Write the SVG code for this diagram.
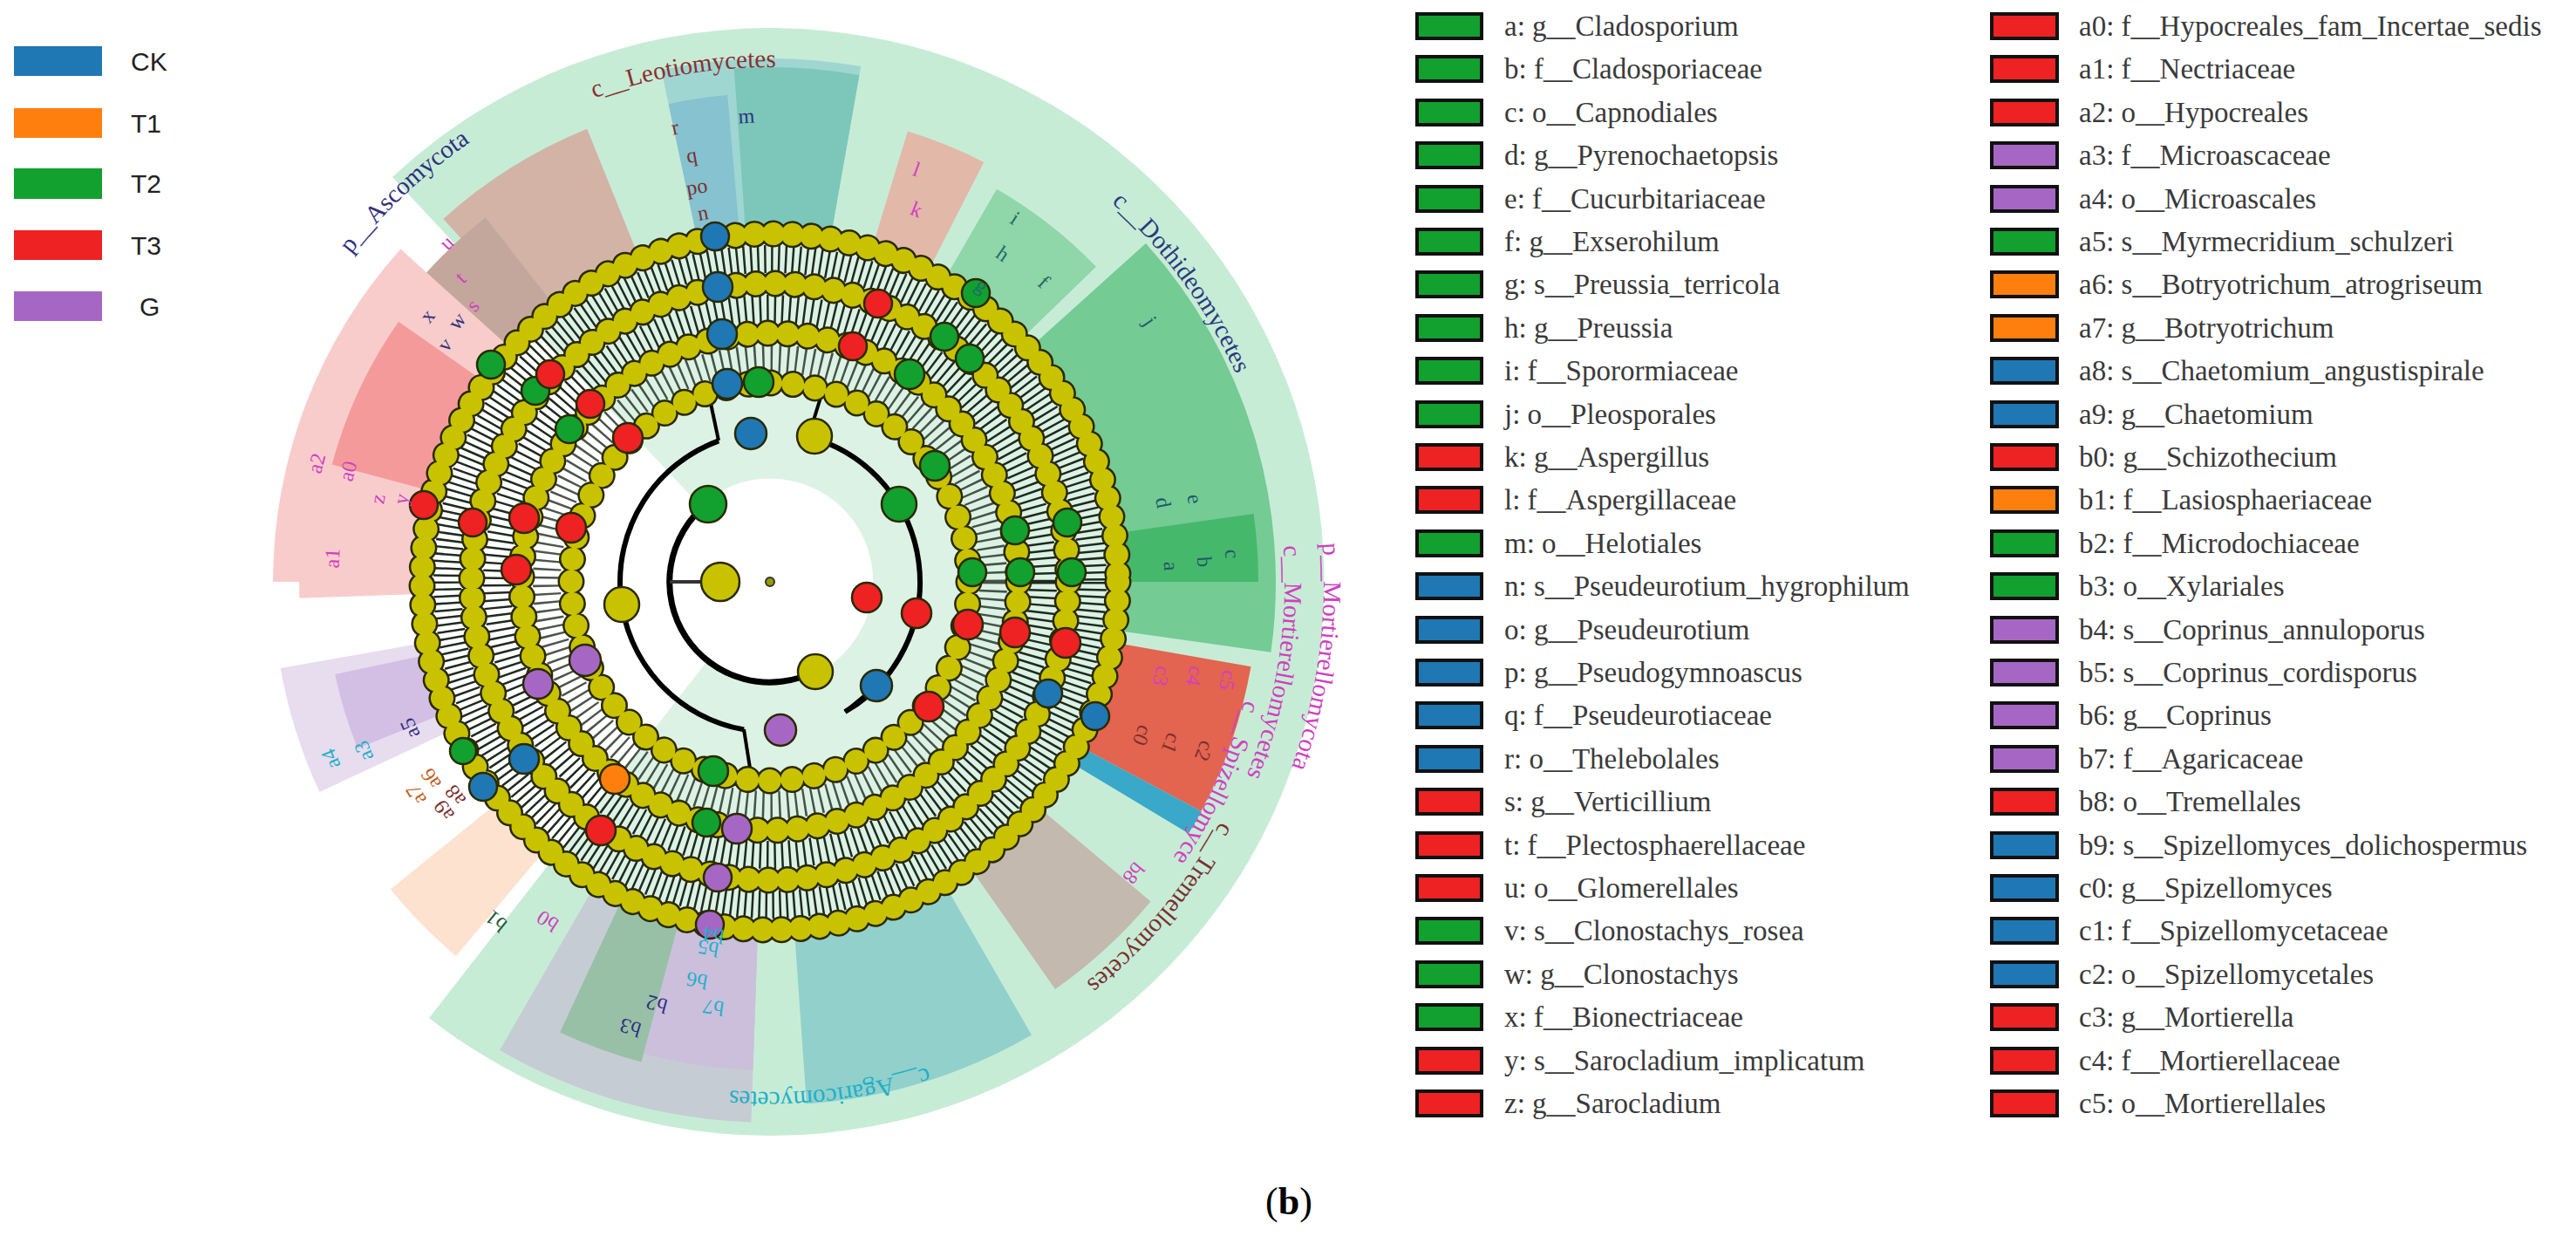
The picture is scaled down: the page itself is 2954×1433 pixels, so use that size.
<svg xmlns="http://www.w3.org/2000/svg" width="2954" height="1433" viewBox="0 0 2954 1433">
<style>
.lg{font-family:"Liberation Serif",serif;font-size:33px;fill:#3a3a3a}
.kl{font-family:"Liberation Sans",Arial,sans-serif;font-size:30px;fill:#222}
.lb{font-family:"Liberation Serif",serif;font-size:24px;text-anchor:middle;dominant-baseline:central}
.cl{font-family:"Liberation Serif",serif;font-size:29px}
.bx{stroke:#111;stroke-width:4}
.n{stroke:#2a2a00;stroke-width:2.5}
.Y{fill:#c8c200}.G{fill:#12a02e}.B{fill:#1f77b4}.R{fill:#ee2222}.P{fill:#a667c4}.O{fill:#ff7f0e}
</style>
<rect width="2954" height="1433" fill="#fff"/>
<g id="legend-groups">
<rect x="16" y="53" width="101" height="34" fill="#1f77b4"/><text class="kl" x="150" y="81">CK</text>
<rect x="16" y="124" width="101" height="34" fill="#ff7f0e"/><text class="kl" x="150" y="152">T1</text>
<rect x="16" y="193" width="101" height="35" fill="#12a02e"/><text class="kl" x="150" y="221">T2</text>
<rect x="16" y="264" width="101" height="34" fill="#ee2222"/><text class="kl" x="150" y="292">T3</text>
<rect x="16" y="334" width="101" height="34" fill="#a667c4"/><text class="kl" x="160" y="362">G</text>
</g>
<g id="backgrounds">
<path d="M450,203 A635,635 0 1 1 492,1167 L630,990 A410,410 0 1 0 603,367 Z" fill="#c7ecd6"/>
<path d="M603,367 A410,410 0 1 1 630,990 L810,759 A118,118 0 1 0 803,580 Z" fill="#dcf2e4"/>
<path d="M758.3,80.1 A600,600 0 0 1 987.2,76.1 L954.2,263.2 A410,410 0 0 0 797.8,266 Z" fill="#9fd6d2"/>
<path d="M841.8,78.4 A590,590 0 0 1 985.4,86 L954.2,263.2 A410,410 0 0 0 854.4,258 Z" fill="#7cc7ba"/>
<path d="M766.6,119.3 A560,560 0 0 1 834.2,109.1 L847.2,258.6 A410,410 0 0 0 797.8,266 Z" fill="#86c2cf"/>
<path d="M508.3,250.9 A560,560 0 0 1 673.2,147.8 L729.4,286.8 A410,410 0 0 0 608.7,362.3 Z" fill="#d2b3a6"/>
<path d="M465.4,340.7 A530,530 0 0 1 556.7,249.4 L630.6,343.9 A410,410 0 0 0 559.9,414.6 Z" fill="#c4a79c"/>
<path d="M313,667 A570,570 0 0 1 459.4,285.6 L578.3,392.7 A410,410 0 0 0 473,667 Z" fill="#f9cccc"/>
<path d="M380.7,532.4 A520,520 0 0 1 457,368.7 L547.1,431.8 A410,410 0 0 0 487,560.9 Z" fill="#f59a9a"/>
<path d="M343.3,685.8 A540,540 0 0 1 351.2,573.3 L479.2,595.8 A410,410 0 0 0 473.2,681.3 Z" fill="#f9cccc"/>
<path d="M366.4,907.9 A570,570 0 0 1 321.7,766 L479.2,738.2 A410,410 0 0 0 511.4,840.3 Z" fill="#e8dcef"/>
<path d="M410.1,858 A510,510 0 0 1 384.2,773 L482,752.2 A410,410 0 0 0 502.8,820.6 Z" fill="#d3bfe3"/>
<path d="M523,1096 A560,560 0 0 1 447.8,1019.4 L564.4,925 A410,410 0 0 0 619.5,981.1 Z" fill="#fde2d0"/>
<path d="M861.4,1286.6 A620,620 0 0 1 573,1203.9 L678,1022.1 A410,410 0 0 0 868.7,1076.8 Z" fill="#c6ccd3"/>
<path d="M735.5,1217.6 A570,570 0 0 1 642.1,1183.6 L709.7,1038.6 A410,410 0 0 0 776.9,1063 Z" fill="#98c0a6"/>
<path d="M863.5,1226.7 A560,560 0 0 1 738.1,1207.9 L776.9,1063 A410,410 0 0 0 868.7,1076.8 Z" fill="#cbbfdc"/>
<path d="M1183,1186.6 A600,600 0 0 1 924.9,1265.6 L911.6,1076 A410,410 0 0 0 1088,1022.1 Z" fill="#92d0cc"/>
<path d="M1319.6,1033.4 A570,570 0 0 1 1210,1134 L1118.2,1002.9 A410,410 0 0 0 1197.1,930.5 Z" fill="#c3b9ae"/>
<path d="M1434.5,764.2 A560,560 0 0 1 1377.4,929.9 L1245,859.5 A410,410 0 0 0 1286.8,738.2 Z" fill="#e3644f"/>
<path d="M1377.4,929.9 A560,560 0 0 1 1363,955.4 L1234.5,878.2 A410,410 0 0 0 1245,859.5 Z" fill="#3aa8c8"/>
<path d="M1314,278.9 A580,580 0 0 1 1457.4,747.7 L1289,724.1 A410,410 0 0 0 1187.7,392.7 Z" fill="#74cb94"/>
<path d="M1437.6,589 A560,560 0 0 1 1443,667 L1293,667 A410,410 0 0 0 1289,609.9 Z" fill="#45b86c"/>
<path d="M1143,216.7 A520,520 0 0 1 1257,305.8 L1177.9,382.2 A410,410 0 0 0 1088,311.9 Z" fill="#8fd6a8"/>
<path d="M1040.9,150.6 A540,540 0 0 1 1128.2,185.9 L1069.1,301.7 A410,410 0 0 0 1002.9,274.9 Z" fill="#e2b8a8"/>
</g>
<g id="connectors" fill="none">
<circle cx="883" cy="667" r="370" stroke="#1e2a1e" stroke-width="32" stroke-dasharray="2.5 5.5"/>
<circle cx="883" cy="667" r="313" stroke="#1e2a1e" stroke-width="32" stroke-dasharray="2.5 6"/>
<circle cx="883" cy="667" r="256" stroke="#1e2a1e" stroke-width="32" stroke-dasharray="2.5 7" stroke-opacity="0.8"/>
<path d="M935.2,769.5 A115,115 0 0 1 810.6,577.6" stroke="#000" stroke-width="7"/>
<path d="M853.1,836.4 A172,172 0 0 1 824.2,505.4" stroke="#000" stroke-width="6"/>
<path d="M927.5,500.9 A172,172 0 0 1 969,816" stroke="#000" stroke-width="6"/>
<line x1="826" y1="667" x2="768" y2="667" stroke="#333" stroke-width="4"/>
<line x1="853" y1="836" x2="862" y2="893" stroke="#000" stroke-width="4"/>
<line x1="824" y1="505" x2="812" y2="448" stroke="#000" stroke-width="4"/>
<line x1="969" y1="816" x2="1005" y2="786" stroke="#000" stroke-width="4"/>
<line x1="927" y1="501" x2="944" y2="446" stroke="#000" stroke-width="4"/>
</g>
<g id="node-rings" fill="none" stroke-linecap="round">
<circle cx="883" cy="667" r="399" stroke="#2a2a00" stroke-width="31" stroke-dasharray="0.01 21.89"/>
<circle cx="883" cy="667" r="399" stroke="#c8c200" stroke-width="26" stroke-dasharray="0.01 21.89"/>
<circle cx="883" cy="667" r="342" stroke="#2a2a00" stroke-width="31" stroke-dasharray="0.01 22.45"/>
<circle cx="883" cy="667" r="342" stroke="#c8c200" stroke-width="26" stroke-dasharray="0.01 22.45"/>
<circle cx="883" cy="667" r="285" stroke="#2a2a00" stroke-width="31" stroke-dasharray="0.01 23.09"/>
<circle cx="883" cy="667" r="285" stroke="#c8c200" stroke-width="26" stroke-dasharray="0.01 23.09"/>
<circle cx="883" cy="667" r="228" stroke="#2a2a00" stroke-width="31" stroke-dasharray="0.01 25.58"/>
<circle cx="883" cy="667" r="228" stroke="#c8c200" stroke-width="26" stroke-dasharray="0.01 25.58"/>
</g>
<g id="nodes">
<circle cx="883" cy="667" r="5" fill="#999900" stroke="#333" stroke-width="2"/>
<circle class="n Y" cx="826" cy="667" r="22"/>
<circle class="n Y" cx="935" cy="770" r="20"/>
<circle class="n Y" cx="713" cy="693" r="20"/>
<circle class="n Y" cx="934" cy="500" r="20"/>
<circle class="n G" cx="812" cy="578" r="21"/>
<circle class="n G" cx="1031" cy="578" r="20"/>
<circle class="n G" cx="1072" cy="534" r="17"/>
<circle class="n G" cx="870" cy="438" r="17"/>
<circle class="n G" cx="1043" cy="429" r="17"/>
<circle class="n G" cx="1083" cy="386" r="16"/>
<circle class="n G" cx="1119" cy="336" r="16"/>
<circle class="n G" cx="1112" cy="411" r="16"/>
<circle class="n G" cx="563" cy="418" r="16"/>
<circle class="n G" cx="614" cy="448" r="16"/>
<circle class="n G" cx="653" cy="492" r="16"/>
<circle class="n G" cx="1164" cy="608" r="16"/>
<circle class="n G" cx="1224" cy="599" r="16"/>
<circle class="n G" cx="1170" cy="656" r="16"/>
<circle class="n G" cx="1229" cy="656" r="16"/>
<circle class="n G" cx="1115" cy="656" r="16"/>
<circle class="n G" cx="818" cy="884" r="17"/>
<circle class="n G" cx="810" cy="943" r="16"/>
<circle class="n G" cx="531" cy="861" r="15"/>
<circle class="n R" cx="486" cy="579" r="16"/>
<circle class="n R" cx="542" cy="599" r="16"/>
<circle class="n R" cx="601" cy="594" r="17"/>
<circle class="n R" cx="655" cy="605" r="17"/>
<circle class="n R" cx="592" cy="653" r="17"/>
<circle class="n R" cx="720" cy="502" r="17"/>
<circle class="n R" cx="677" cy="463" r="16"/>
<circle class="n R" cx="631" cy="429" r="16"/>
<circle class="n R" cx="1007" cy="348" r="16"/>
<circle class="n R" cx="978" cy="397" r="16"/>
<circle class="n R" cx="994" cy="685" r="17"/>
<circle class="n R" cx="1051" cy="703" r="17"/>
<circle class="n R" cx="1110" cy="716" r="17"/>
<circle class="n R" cx="1164" cy="725" r="17"/>
<circle class="n R" cx="1222" cy="737" r="17"/>
<circle class="n R" cx="1065" cy="810" r="17"/>
<circle class="n R" cx="689" cy="952" r="17"/>
<circle class="n B" cx="820" cy="271" r="16"/>
<circle class="n B" cx="823" cy="329" r="17"/>
<circle class="n B" cx="828" cy="383" r="17"/>
<circle class="n B" cx="834" cy="440" r="17"/>
<circle class="n B" cx="861" cy="497" r="18"/>
<circle class="n B" cx="1005" cy="786" r="18"/>
<circle class="n B" cx="1202" cy="795" r="16"/>
<circle class="n B" cx="1256" cy="821" r="16"/>
<circle class="n B" cx="601" cy="870" r="17"/>
<circle class="n B" cx="554" cy="902" r="16"/>
<circle class="n P" cx="671" cy="757" r="18"/>
<circle class="n P" cx="617" cy="784" r="17"/>
<circle class="n P" cx="895" cy="837" r="18"/>
<circle class="n P" cx="845" cy="950" r="17"/>
<circle class="n P" cx="823" cy="1006" r="16"/>
<circle class="n P" cx="814" cy="1060" r="16"/>
<circle class="n O" cx="705" cy="893" r="17"/>
</g>
<g id="class-labels" class="cl">
<path id="pA" d="M402.3,291.4 A610,610 0 0 1 634.9,109.8" fill="none"/>
<path id="pL" d="M681.2,112.6 A590,590 0 0 1 965.1,82.7" fill="none"/>
<path id="pD" d="M1274.4,232.3 A585,585 0 0 1 1453,535.4" fill="none"/>
<path id="pM" d="M1516.5,622.7 A635,635 0 0 1 1432.9,984.5" fill="none"/>
<path id="pMc" d="M1471.6,625.8 A590,590 0 0 1 1413.3,925.7" fill="none"/>
<path id="pS" d="M1426.4,802.5 A560,560 0 0 1 1347.2,980.2" fill="none"/>
<path id="pT" d="M1399.5,941.7 A585,585 0 0 1 1157.7,1183.5" fill="none"/>
<path id="pG" d="M1063.8,1223.4 A585,585 0 0 1 761.4,1239.2" fill="none"/>
<text fill="#30307f"><textPath href="#pA">p__Ascomycota</textPath></text>
<text fill="#8a3030"><textPath href="#pL">c__Leotiomycetes</textPath></text>
<text fill="#2a3a80"><textPath href="#pD">c__Dothideomycetes</textPath></text>
<text fill="#d040c0"><textPath href="#pM">p__Mortierellomycota</textPath></text>
<text fill="#d040c0"><textPath href="#pMc">c__Mortierellomycetes</textPath></text>
<text fill="#d040c0"><textPath href="#pS">c__Spizellomycetes</textPath></text>
<text fill="#7a3030"><textPath href="#pT">c__Tremellomycetes</textPath></text>
<text fill="#20b0c8"><textPath href="#pG">c__Agaricomycetes</textPath></text>
</g>
<g id="leaf-labels" class="lb">
<text fill="#d040c0" transform="translate(1051,194) rotate(20)">l</text>
<text fill="#d040c0" transform="translate(1051,240) rotate(22)">k</text>
<text fill="#1f6a6a" transform="translate(1164,250) rotate(34)">i</text>
<text fill="#1f6a6a" transform="translate(1150,291) rotate(35)">h</text>
<text fill="#1f6a6a" transform="translate(1126,327) rotate(36)">g</text>
<text fill="#1f6a6a" transform="translate(1197,323) rotate(42)">f</text>
<text fill="#1f5a6a" transform="translate(1319,368) rotate(56)">j</text>
<text fill="#1f5a6a" transform="translate(1370,572) rotate(79)">e</text>
<text fill="#1f5a6a" transform="translate(1334,576) rotate(79)">d</text>
<text fill="#1f5a6a" transform="translate(1413,635) rotate(86)">c</text>
<text fill="#1f5a6a" transform="translate(1381,644) rotate(87)">b</text>
<text fill="#1f5a6a" transform="translate(1343,649) rotate(88)">a</text>
<text fill="#d040c0" transform="translate(1332,775) rotate(103)">c3</text>
<text fill="#d040c0" transform="translate(1370,775) rotate(103)">c4</text>
<text fill="#d040c0" transform="translate(1408,780) rotate(102)">c5</text>
<text fill="#7a3030" transform="translate(1310,843) rotate(112)">c0</text>
<text fill="#7a3030" transform="translate(1343,852) rotate(112)">c1</text>
<text fill="#7a3030" transform="translate(1381,861) rotate(111)">c2</text>
<text fill="#d040c0" transform="translate(1300,1001) rotate(129)">b8</text>
<text fill="#20b0c8" transform="translate(818,1155) rotate(188)">b7</text>
<text fill="#20b0c8" transform="translate(799,1124) rotate(190)">b6</text>
<text fill="#20b0c8" transform="translate(812,1087) rotate(190)">b5</text>
<text fill="#20b0c8" transform="translate(818,1072) rotate(190)">b4</text>
<text fill="#30307f" transform="translate(753,1151) rotate(195)">b2</text>
<text fill="#30307f" transform="translate(723,1178) rotate(197)">b3</text>
<text fill="#1f5a3a" transform="translate(569,1056) rotate(219)">b1</text>
<text fill="#d040c0" transform="translate(628,1056) rotate(213)">b0</text>
<text fill="#7a3030" transform="translate(509,929) rotate(235)">a9</text>
<text fill="#7a3030" transform="translate(522,912) rotate(234)">a8</text>
<text fill="#c06020" transform="translate(477,911) rotate(239)">a7</text>
<text fill="#c06020" transform="translate(494,893) rotate(238)">a6</text>
<text fill="#20b0c8" transform="translate(379,870) rotate(248)">a4</text>
<text fill="#20b0c8" transform="translate(417,861) rotate(247)">a3</text>
<text fill="#30307f" transform="translate(470,835) rotate(246)">a5</text>
<text fill="#d040c0" transform="translate(381,640) rotate(273)">a1</text>
<text fill="#d040c0" transform="translate(363,531) rotate(285)">a2</text>
<text fill="#d040c0" transform="translate(399,540) rotate(285)">a0</text>
<text fill="#d040c0" transform="translate(433,572) rotate(282)">z</text>
<text fill="#d040c0" transform="translate(460,572) rotate(283)">y</text>
<text fill="#d040c0" transform="translate(512,278) rotate(316)">u</text>
<text fill="#d040c0" transform="translate(528,318) rotate(315)">t</text>
<text fill="#d040c0" transform="translate(542,350) rotate(313)">s</text>
<text fill="#30307f" transform="translate(524,368) rotate(310)">w</text>
<text fill="#30307f" transform="translate(490,362) rotate(308)">x</text>
<text fill="#30307f" transform="translate(510,395) rotate(310)">v</text>
<text fill="#7a3030" transform="translate(774,146) rotate(348)">r</text>
<text fill="#7a3030" transform="translate(793,178) rotate(350)">q</text>
<text fill="#7a3030" transform="translate(799,214) rotate(350)">po</text>
<text fill="#7a3030" transform="translate(806,244) rotate(350)">n</text>
<text fill="#30307f" transform="translate(856,133) rotate(357)">m</text>
</g>
<g id="legend-taxa">
<g class="bx">
<rect x="1625" y="16" width="74" height="28" class="G"/><rect x="1625" y="65" width="74" height="28" class="G"/><rect x="1625" y="115" width="74" height="28" class="G"/><rect x="1625" y="164" width="74" height="28" class="G"/><rect x="1625" y="214" width="74" height="28" class="G"/><rect x="1625" y="263" width="74" height="28" class="G"/><rect x="1625" y="312" width="74" height="28" class="G"/><rect x="1625" y="362" width="74" height="28" class="G"/><rect x="1625" y="411" width="74" height="28" class="G"/><rect x="1625" y="461" width="74" height="28" class="G"/><rect x="1625" y="510" width="74" height="28" class="R"/><rect x="1625" y="559" width="74" height="28" class="R"/><rect x="1625" y="609" width="74" height="28" class="G"/><rect x="1625" y="658" width="74" height="28" class="B"/><rect x="1625" y="708" width="74" height="28" class="B"/><rect x="1625" y="757" width="74" height="28" class="B"/><rect x="1625" y="806" width="74" height="28" class="B"/><rect x="1625" y="856" width="74" height="28" class="B"/><rect x="1625" y="905" width="74" height="28" class="R"/><rect x="1625" y="955" width="74" height="28" class="R"/><rect x="1625" y="1004" width="74" height="28" class="R"/><rect x="1625" y="1053" width="74" height="28" class="G"/><rect x="1625" y="1103" width="74" height="28" class="G"/><rect x="1625" y="1152" width="74" height="28" class="G"/><rect x="1625" y="1202" width="74" height="28" class="R"/><rect x="1625" y="1251" width="74" height="28" class="R"/>
<rect x="2284" y="16" width="75" height="28" class="R"/><rect x="2284" y="65" width="75" height="28" class="R"/><rect x="2284" y="115" width="75" height="28" class="R"/><rect x="2284" y="164" width="75" height="28" class="P"/><rect x="2284" y="214" width="75" height="28" class="P"/><rect x="2284" y="263" width="75" height="28" class="G"/><rect x="2284" y="312" width="75" height="28" class="O"/><rect x="2284" y="362" width="75" height="28" class="O"/><rect x="2284" y="411" width="75" height="28" class="B"/><rect x="2284" y="461" width="75" height="28" class="B"/><rect x="2284" y="510" width="75" height="28" class="R"/><rect x="2284" y="559" width="75" height="28" class="O"/><rect x="2284" y="609" width="75" height="28" class="G"/><rect x="2284" y="658" width="75" height="28" class="G"/><rect x="2284" y="708" width="75" height="28" class="P"/><rect x="2284" y="757" width="75" height="28" class="P"/><rect x="2284" y="806" width="75" height="28" class="P"/><rect x="2284" y="856" width="75" height="28" class="P"/><rect x="2284" y="905" width="75" height="28" class="R"/><rect x="2284" y="955" width="75" height="28" class="B"/><rect x="2284" y="1004" width="75" height="28" class="B"/><rect x="2284" y="1053" width="75" height="28" class="B"/><rect x="2284" y="1103" width="75" height="28" class="B"/><rect x="2284" y="1152" width="75" height="28" class="R"/><rect x="2284" y="1202" width="75" height="28" class="R"/><rect x="2284" y="1251" width="75" height="28" class="R"/>
</g>
<g class="lg">
<text x="1725" y="41">a: g__Cladosporium</text><text x="1725" y="90">b: f__Cladosporiaceae</text><text x="1725" y="140">c: o__Capnodiales</text><text x="1725" y="189">d: g__Pyrenochaetopsis</text><text x="1725" y="239">e: f__Cucurbitariaceae</text><text x="1725" y="288">f: g__Exserohilum</text><text x="1725" y="337">g: s__Preussia_terricola</text><text x="1725" y="387">h: g__Preussia</text><text x="1725" y="436">i: f__Sporormiaceae</text><text x="1725" y="486">j: o__Pleosporales</text><text x="1725" y="535">k: g__Aspergillus</text><text x="1725" y="584">l: f__Aspergillaceae</text><text x="1725" y="634">m: o__Helotiales</text><text x="1725" y="683">n: s__Pseudeurotium_hygrophilum</text><text x="1725" y="733">o: g__Pseudeurotium</text><text x="1725" y="782">p: g__Pseudogymnoascus</text><text x="1725" y="831">q: f__Pseudeurotiaceae</text><text x="1725" y="881">r: o__Thelebolales</text><text x="1725" y="930">s: g__Verticillium</text><text x="1725" y="980">t: f__Plectosphaerellaceae</text><text x="1725" y="1029">u: o__Glomerellales</text><text x="1725" y="1078">v: s__Clonostachys_rosea</text><text x="1725" y="1128">w: g__Clonostachys</text><text x="1725" y="1177">x: f__Bionectriaceae</text><text x="1725" y="1227">y: s__Sarocladium_implicatum</text><text x="1725" y="1276">z: g__Sarocladium</text>
<text x="2384" y="41">a0: f__Hypocreales_fam_Incertae_sedis</text><text x="2384" y="90">a1: f__Nectriaceae</text><text x="2384" y="140">a2: o__Hypocreales</text><text x="2384" y="189">a3: f__Microascaceae</text><text x="2384" y="239">a4: o__Microascales</text><text x="2384" y="288">a5: s__Myrmecridium_schulzeri</text><text x="2384" y="337">a6: s__Botryotrichum_atrogriseum</text><text x="2384" y="387">a7: g__Botryotrichum</text><text x="2384" y="436">a8: s__Chaetomium_angustispirale</text><text x="2384" y="486">a9: g__Chaetomium</text><text x="2384" y="535">b0: g__Schizothecium</text><text x="2384" y="584">b1: f__Lasiosphaeriaceae</text><text x="2384" y="634">b2: f__Microdochiaceae</text><text x="2384" y="683">b3: o__Xylariales</text><text x="2384" y="733">b4: s__Coprinus_annuloporus</text><text x="2384" y="782">b5: s__Coprinus_cordisporus</text><text x="2384" y="831">b6: g__Coprinus</text><text x="2384" y="881">b7: f__Agaricaceae</text><text x="2384" y="930">b8: o__Tremellales</text><text x="2384" y="980">b9: s__Spizellomyces_dolichospermus</text><text x="2384" y="1029">c0: g__Spizellomyces</text><text x="2384" y="1078">c1: f__Spizellomycetaceae</text><text x="2384" y="1128">c2: o__Spizellomycetales</text><text x="2384" y="1177">c3: g__Mortierella</text><text x="2384" y="1227">c4: f__Mortierellaceae</text><text x="2384" y="1276">c5: o__Mortierellales</text>
</g>
</g>
<text x="1478" y="1392" font-family="Liberation Serif,serif" font-size="44" text-anchor="middle" fill="#000">(<tspan font-weight="bold">b</tspan>)</text>
</svg>
